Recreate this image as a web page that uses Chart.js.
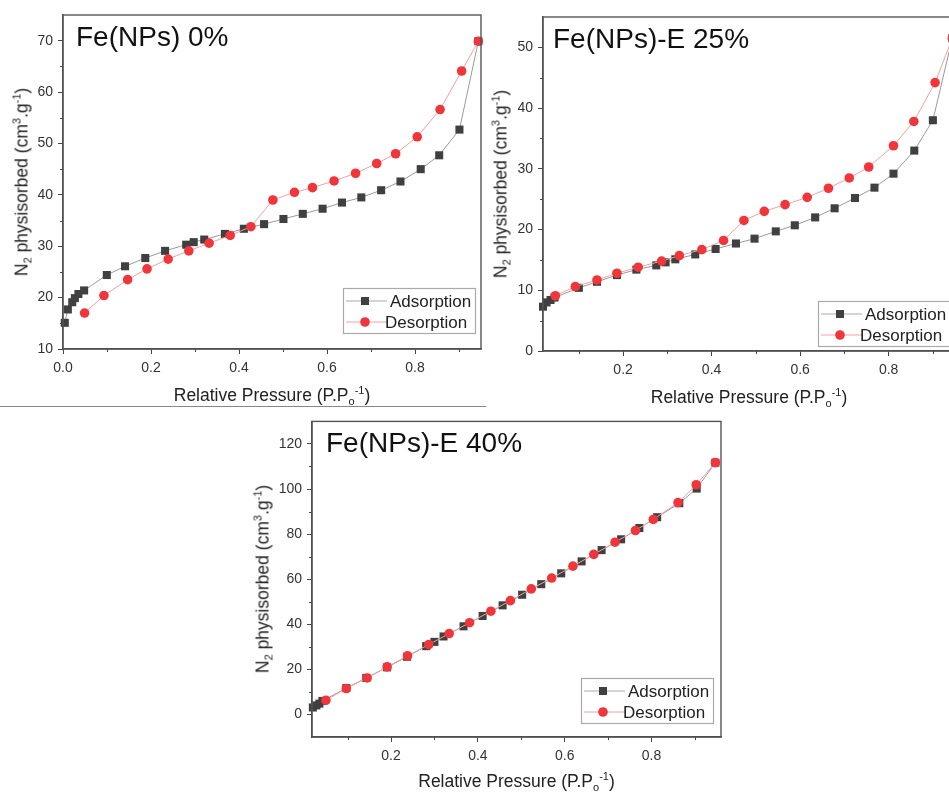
<!DOCTYPE html>
<html>
<head>
<meta charset="utf-8">
<title>N2 isotherms</title>
<script src="https://cdn.jsdelivr.net/npm/chart.js@4.4.0/dist/chart.umd.min.js"></script>
<style>
    html, body { margin: 0; padding: 0; background: #fff; }
    body { width: 949px; height: 792px; overflow: hidden; position: relative; font-family: "Liberation Sans", Arial, sans-serif; }
    .panel { position: absolute; }
    .panel canvas { position: absolute; left: 0; top: 0; }
    .axis-title { position: absolute; font-size: 17.5px; color: #222; white-space: nowrap; transform: translate(-50%, -50%); }
    .axis-title.y { transform: translate(-50%, -50%) rotate(-90deg); }
    .axis-title sub, .axis-title sup { font-size: 11px; line-height: 0; }
    .axis-title sub { vertical-align: -4px; }
    .axis-title sup { vertical-align: 7px; }
    #sep { position: absolute; left: 0; top: 406px; width: 486px; border-top: 1.5px solid #888; }
</style>
</head>
<body>
<div id="sep"></div>
<div class="panel" id="p0" style="left:0;top:0;width:490px;height:405px"><canvas id="c0" width="490" height="405"></canvas></div>
<div class="panel" id="p25" style="left:490px;top:0;width:480px;height:405px"><canvas id="c25" width="480" height="405"></canvas></div>
<div class="panel" id="p40" style="left:245px;top:408px;width:490px;height:384px"><canvas id="c40" width="490" height="384"></canvas></div>

<script>
// --- Datos: Fe(NPs) 0% ---
const ads0X = [0.004, 0.011, 0.021, 0.027, 0.035, 0.048, 0.0995, 0.141, 0.187, 0.232, 0.28, 0.297, 0.321, 0.368, 0.411, 0.457, 0.501, 0.545, 0.59, 0.634, 0.678, 0.723, 0.767, 0.813, 0.855, 0.901, 0.944];
const ads0Y = [15.1, 17.7, 19.1, 19.9, 20.7, 21.4, 24.4, 26.1, 27.7, 29.1, 30.3, 30.8, 31.3, 32.4, 33.4, 34.3, 35.3, 36.3, 37.3, 38.5, 39.5, 40.9, 42.6, 45.0, 47.7, 52.7, 69.9];
const des0X = [0.944, 0.906, 0.857, 0.805, 0.756, 0.713, 0.665, 0.616, 0.567, 0.526, 0.477, 0.427, 0.38, 0.332, 0.286, 0.239, 0.191, 0.147, 0.093, 0.049];
const des0Y = [69.9, 64.1, 56.6, 51.3, 48.0, 46.1, 44.2, 42.7, 41.4, 40.5, 39.0, 33.8, 32.1, 30.6, 29.1, 27.5, 25.6, 23.5, 20.4, 17.0];

// --- Datos: Fe(NPs)-E 25% ---
const ads25X = [0.019, 0.027, 0.036, 0.045, 0.1, 0.141, 0.186, 0.23, 0.275, 0.296, 0.318, 0.363, 0.409, 0.455, 0.497, 0.545, 0.588, 0.634, 0.678, 0.724, 0.768, 0.811, 0.858, 0.9, 0.944];
const ads25Y = [7.3, 8.0, 8.4, 8.8, 10.4, 11.4, 12.5, 13.4, 14.1, 14.6, 15.1, 15.9, 16.8, 17.7, 18.5, 19.7, 20.7, 22.0, 23.5, 25.2, 26.9, 29.2, 33.0, 38.0, 51.5];
const des25X = [0.944, 0.905, 0.857, 0.811, 0.755, 0.711, 0.664, 0.616, 0.566, 0.519, 0.473, 0.427, 0.378, 0.327, 0.287, 0.234, 0.186, 0.141, 0.092, 0.047];
const des25Y = [51.5, 44.2, 37.8, 33.8, 30.3, 28.5, 26.8, 25.3, 24.1, 23.0, 21.5, 18.2, 16.7, 15.7, 14.8, 13.8, 12.8, 11.7, 10.6, 9.1];

// --- Datos: Fe(NPs)-E 40% ---
const ads40X = [0.02, 0.028, 0.035, 0.042, 0.097, 0.143, 0.191, 0.237, 0.281, 0.3, 0.321, 0.367, 0.411, 0.457, 0.502, 0.546, 0.592, 0.639, 0.685, 0.73, 0.772, 0.813, 0.864, 0.904, 0.947];
const ads40Y = [3.1, 4.0, 4.8, 6.0, 11.7, 16.2, 20.9, 25.6, 30.3, 32.2, 34.6, 39.1, 43.7, 48.4, 53.1, 57.8, 62.6, 67.9, 72.9, 77.7, 82.7, 87.5, 93.7, 100.2, 111.7];
const des40X = [0.947, 0.903, 0.861, 0.804, 0.763, 0.716, 0.667, 0.619, 0.57, 0.523, 0.475, 0.43, 0.381, 0.334, 0.287, 0.238, 0.191, 0.145, 0.097, 0.05];
const des40Y = [111.7, 101.9, 94.0, 86.5, 81.6, 76.4, 71.0, 65.8, 60.5, 55.7, 50.5, 45.8, 40.7, 35.9, 31.0, 26.0, 21.1, 16.2, 11.5, 6.3];

// --- Ticks ---
const xTicks0 = [0, 0.2, 0.4, 0.6, 0.8];
const xTicks = [0.2, 0.4, 0.6, 0.8];
const xMinor = [0.1, 0.3, 0.5, 0.7, 0.9];
const yTicks0 = [10, 20, 30, 40, 50, 60, 70];
const yMinor0 = [15, 25, 35, 45, 55, 65];
const yTicks25 = [0, 10, 20, 30, 40, 50];
const yMinor25 = [5, 15, 25, 35, 45];
const yTicks40 = [0, 20, 40, 60, 80, 100, 120];
const yMinor40 = [10, 30, 50, 70, 90, 110];

const seriesNames = ['Adsorption', 'Desorption'];
const xTitle = 'Relative Pressure (P.P<sub>o</sub><sup>-1</sup>)';
const yTitle = 'N<sub>2</sub> physisorbed (cm<sup>3</sup>.g<sup>-1</sup>)';

const FONT = '"Liberation Sans", Arial, sans-serif';
const AXIS = '#444';

function toPoints(xs, ys) {
    return xs.map((x, i) => ({ x: x, y: ys[i] }));
}

// --- Marco, ticks menores, título interno y leyenda ---
const panelDecor = {
    id: 'panelDecor',
    afterDraw(chart, args, o) {
        const { ctx, chartArea: a, scales } = chart;
        ctx.save();

        // ticks menores
        ctx.strokeStyle = AXIS;
        ctx.lineWidth = 1;
        ctx.beginPath();
        o.xMinor.forEach(v => {
            const px = Math.round(scales.x.getPixelForValue(v)) + 0.5;
            ctx.moveTo(px, a.bottom); ctx.lineTo(px, a.bottom + 3);
        });
        o.yMinor.forEach(v => {
            const py = Math.round(scales.y.getPixelForValue(v)) + 0.5;
            ctx.moveTo(a.left, py); ctx.lineTo(a.left - 3, py);
        });
        ctx.stroke();

        // marco
        ctx.lineWidth = 1.4;
        ctx.strokeStyle = '#555';
        ctx.strokeRect(a.left, a.top, a.right - a.left, a.bottom - a.top);

        // título interno
        ctx.font = '28px ' + FONT;
        ctx.fillStyle = '#111';
        ctx.textBaseline = 'alphabetic';
        ctx.textAlign = 'left';
        ctx.fillText(o.title, a.left + o.titleDx, a.top + 31);

        // leyenda
        const w = 132, h = 45;
        const bx = a.right - o.legendRight - w;
        const by = a.bottom - o.legendBottom - h;
        ctx.fillStyle = '#fff';
        ctx.fillRect(bx, by, w, h);
        ctx.strokeStyle = '#aaa';
        ctx.lineWidth = 1.2;
        ctx.strokeRect(bx + 0.5, by + 0.5, w, h);

        const rows = [
            { y: by + 13, line: '#aaa', fill: '#404040', shape: 'rect', tx: 47 },
            { y: by + 34, line: '#f4a0a0', fill: '#f0353b', shape: 'circle', tx: 42 }
        ];
        ctx.font = '17px ' + FONT;
        ctx.textBaseline = 'middle';
        rows.forEach((r, i) => {
            ctx.strokeStyle = r.line;
            ctx.lineWidth = 1;
            ctx.beginPath();
            ctx.moveTo(bx + 3, r.y); ctx.lineTo(bx + 44, r.y);
            ctx.stroke();
            ctx.fillStyle = r.fill;
            if (r.shape === 'rect') {
                ctx.fillRect(bx + 22 - 4, r.y - 4, 8, 8);
            } else {
                ctx.beginPath();
                ctx.arc(bx + 22, r.y, 4.8, 0, Math.PI * 2);
                ctx.fill();
            }
            ctx.fillStyle = '#222';
            ctx.fillText(seriesNames[i], bx + r.tx, r.y + 1);
        });

        ctx.restore();
    }
};

function makePanel(p) {
    const chart = new Chart(document.getElementById(p.canvas), {
        type: 'line',
        data: {
            datasets: [
                {
                    label: seriesNames[0],
                    data: toPoints(p.adsX, p.adsY),
                    borderColor: '#9a9a9a',
                    borderWidth: 1,
                    pointStyle: 'rect',
                    pointRadius: 5.7,
                    pointBackgroundColor: '#404040',
                    pointBorderColor: '#404040',
                    pointBorderWidth: 0,
                    order: 1,
                    clip: false
                },
                {
                    label: seriesNames[1],
                    data: toPoints(p.desX, p.desY),
                    borderColor: '#f4a0a0',
                    borderWidth: 1,
                    pointStyle: 'circle',
                    pointRadius: 4.8,
                    pointBackgroundColor: '#f0353b',
                    pointBorderColor: '#f0353b',
                    pointBorderWidth: 0,
                    order: 0,
                    clip: false
                }
            ]
        },
        options: {
            responsive: false,
            animation: false,
            devicePixelRatio: 1,
            layout: { autoPadding: false, padding: { left: 0, top: p.padTop, right: p.padRight, bottom: 0 } },
            elements: { line: { tension: 0 } },
            scales: {
                x: {
                    type: 'linear',
                    min: p.xMin, max: p.xMax,
                    afterBuildTicks: s => { s.ticks = p.xTicks.map(v => ({ value: v })); },
                    afterFit: s => { s.height = p.xAxisH; },
                    grid: { drawOnChartArea: false, drawTicks: true, tickLength: 5, color: AXIS, lineWidth: 1 },
                    border: { display: true, color: AXIS, width: 1.4 },
                    ticks: { padding: 6, color: '#333', font: { family: FONT, size: 14 }, maxRotation: 0, autoSkip: false, callback: v => Number(v).toFixed(1) }
                },
                y: {
                    type: 'linear',
                    min: p.yMin, max: p.yMax,
                    afterBuildTicks: s => { s.ticks = p.yTicks.map(v => ({ value: v })); },
                    afterFit: s => { s.width = p.yAxisW; },
                    grid: { drawOnChartArea: false, drawTicks: true, tickLength: 5, color: AXIS, lineWidth: 1 },
                    border: { display: true, color: AXIS, width: 1.4 },
                    ticks: { padding: 5, color: '#333', font: { family: FONT, size: 14 }, autoSkip: false }
                }
            },
            plugins: {
                legend: { display: false },
                tooltip: { enabled: false },
                panelDecor: {
                    title: p.title, titleDx: p.titleDx,
                    xMinor: xMinor, yMinor: p.yMinor,
                    legendRight: p.legendRight, legendBottom: p.legendBottom
                }
            }
        },
        plugins: [panelDecor]
    });

    // títulos de ejes como texto HTML (subíndices / superíndices)
    const a = chart.chartArea;
    const wrap = document.getElementById(p.wrap);
    const xt = document.createElement('div');
    xt.className = 'axis-title';
    xt.innerHTML = xTitle;
    xt.style.left = ((a.left + a.right) / 2) + 'px';
    xt.style.top = p.xTitleY + 'px';
    wrap.appendChild(xt);

    const yt = document.createElement('div');
    yt.className = 'axis-title y';
    yt.innerHTML = yTitle;
    yt.style.left = p.yTitleX + 'px';
    yt.style.top = ((a.top + a.bottom) / 2) + 'px';
    wrap.appendChild(yt);
}

makePanel({
    canvas: 'c0', wrap: 'p0', title: 'Fe(NPs) 0%', titleDx: 13,
    adsX: ads0X, adsY: ads0Y, desX: des0X, desY: des0Y,
    xMin: 0, xMax: 0.95, yMin: 10, yMax: 75,
    xTicks: xTicks0, yTicks: yTicks0, yMinor: yMinor0,
    padTop: 15, padRight: 9, xAxisH: 56, yAxisW: 63,
    legendRight: 6, legendBottom: 16,
    xTitleY: 395, yTitleX: 22
});

makePanel({
    canvas: 'c25', wrap: 'p25', title: 'Fe(NPs)-E 25%', titleDx: 10,
    adsX: ads25X, adsY: ads25Y, desX: des25X, desY: des25Y,
    xMin: 0.019, xMax: 0.95, yMin: 0, yMax: 55,
    xTicks: xTicks, yTicks: yTicks25, yMinor: yMinor25,
    padTop: 17, padRight: 15, xAxisH: 54, yAxisW: 53,
    legendRight: 5, legendBottom: 5,
    xTitleY: 397, yTitleX: 11
});

makePanel({
    canvas: 'c40', wrap: 'p40', title: 'Fe(NPs)-E 40%', titleDx: 14,
    adsX: ads40X, adsY: ads40Y, desX: des40X, desY: des40Y,
    xMin: 0.018, xMax: 0.96, yMin: -10, yMax: 130,
    xTicks: xTicks, yTicks: yTicks40, yMinor: yMinor40,
    padTop: 1, padRight: 14, xAxisH: 55, yAxisW: 67,
    legendRight: 8, legendBottom: 14,
    xTitleY: 373, yTitleX: 18
});
</script>
</body>
</html>
